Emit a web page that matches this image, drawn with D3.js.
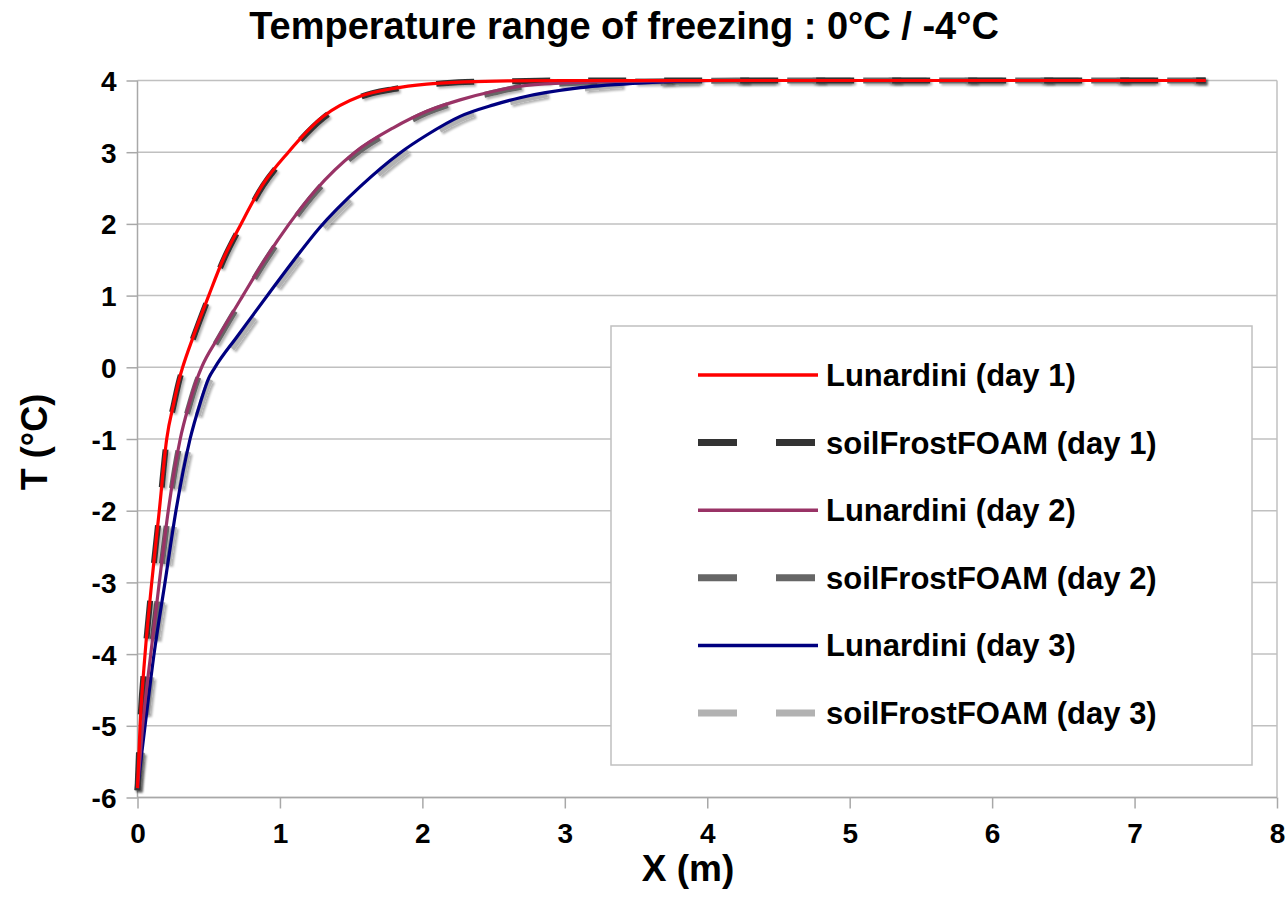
<!DOCTYPE html>
<html><head><meta charset="utf-8">
<script src="https://cdn.jsdelivr.net/npm/d3@7"></script>
<style>
body{margin:0;background:#fff;}
text{font-family:"Liberation Sans",Arial,sans-serif;font-weight:bold;fill:#000;}
</style>
</head><body>
<svg id="chart" width="1288" height="913"></svg>
<script>
const chartTitle = "Temperature range of freezing : 0°C / -4°C";
const xAxisTitle = "X (m)";
const yAxisTitle = "T (°C)";
const xTicks = [0, 1, 2, 3, 4, 5, 6, 7, 8];
const yTicks = [-6, -5, -4, -3, -2, -1, 0, 1, 2, 3, 4];

// Day 1
const day1X = [0, 0.018, 0.053, 0.10, 0.153, 0.205, 0.255, 0.295, 0.317, 0.39, 0.50, 0.60, 0.727, 0.88, 1.059, 1.305, 1.563, 1.796, 2.031, 2.3, 2.6, 3.0, 3.5, 4.0, 5.0, 6.0, 7.0, 7.5];
const lunDay1 = [-5.87, -5, -4, -3, -2, -1, -0.5, -0.15, 0, 0.42, 1, 1.5, 2, 2.55, 3, 3.5, 3.78, 3.89, 3.95, 3.98, 3.995, 4, 4, 4, 4, 4, 4, 4];
const foamDay1 = [-5.9, -5.02, -4.03, -3.03, -2.03, -1.02, -0.52, -0.17, -0.02, 0.40, 0.98, 1.48, 1.98, 2.53, 2.98, 3.48, 3.77, 3.88, 3.94, 3.98, 3.99, 4, 4, 4, 4, 4, 4, 4];

// Day 2
const day2X = [0, 0.036, 0.093, 0.153, 0.216, 0.30, 0.365, 0.42, 0.45, 0.567, 0.74, 0.90, 1.065, 1.25, 1.527, 1.796, 2.031, 2.265, 2.50, 2.686, 3.0, 3.3, 3.7, 4.2, 5.0, 6.0, 7.0, 7.5];
const lunDay2 = [-5.87, -5, -4, -3, -2, -1, -0.5, -0.15, 0, 0.42, 1, 1.52, 2, 2.47, 3, 3.34, 3.57, 3.73, 3.85, 3.92, 3.965, 3.985, 3.995, 4, 4, 4, 4, 4];
const foamDay2 = [-5.9, -5.03, -4.04, -3.04, -2.04, -1.03, -0.53, -0.18, -0.03, 0.39, 0.97, 1.49, 1.97, 2.44, 2.97, 3.31, 3.55, 3.71, 3.83, 3.91, 3.96, 3.98, 3.99, 4, 4, 4, 4, 4];

// Day 3
const day3X = [0, 0.053, 0.116, 0.193, 0.27, 0.369, 0.44, 0.50, 0.544, 0.70, 0.80, 0.93, 1.10, 1.28, 1.563, 1.843, 2.031, 2.265, 2.50, 2.686, 3.11, 3.58, 4.04, 5.0, 6.0, 7.0, 7.5];
const lunDay3 = [-5.87, -5, -4, -3, -2, -1, -0.5, -0.15, 0, 0.43, 0.70, 1.05, 1.50, 1.95, 2.52, 2.99, 3.24, 3.50, 3.66, 3.76, 3.90, 3.97, 4.0, 4, 4, 4, 4];
const foamDay3 = [-5.9, -5.05, -4.05, -3.05, -2.05, -1.05, -0.56, -0.22, -0.07, 0.36, 0.64, 0.99, 1.44, 1.90, 2.47, 2.94, 3.20, 3.46, 3.63, 3.73, 3.88, 3.96, 3.99, 4, 4, 4, 4];

const seriesNames = ["Lunardini (day 1)", "soilFrostFOAM (day 1)", "Lunardini (day 2)", "soilFrostFOAM (day 2)", "Lunardini (day 3)", "soilFrostFOAM (day 3)"];
const seriesColors = ["#ff0000", "#333333", "#993366", "#666666", "#000080", "#b2b2b2"];

const series = [
  {name: seriesNames[0], xs: day1X, ys: lunDay1, color: seriesColors[0], dashed: false},
  {name: seriesNames[1], xs: day1X, ys: foamDay1, color: seriesColors[1], dashed: true},
  {name: seriesNames[2], xs: day2X, ys: lunDay2, color: seriesColors[2], dashed: false},
  {name: seriesNames[3], xs: day2X, ys: foamDay2, color: seriesColors[3], dashed: true},
  {name: seriesNames[4], xs: day3X, ys: lunDay3, color: seriesColors[4], dashed: false},
  {name: seriesNames[5], xs: day3X, ys: foamDay3, color: seriesColors[5], dashed: true}
];

const svg = d3.select("#chart");
const plot = {left: 137.5, right: 1277, top: 80.5, bottom: 797.5};
const x = d3.scaleLinear().domain([0, 8]).range([plot.left, plot.right]);
const y = d3.scaleLinear().domain([-6, 4]).range([plot.bottom, plot.top]);

const defs = svg.append("defs");
const f = defs.append("filter").attr("id", "shadow").attr("x", "-20%").attr("y", "-20%").attr("width", "140%").attr("height", "140%");
f.append("feDropShadow").attr("dx", 2).attr("dy", 2).attr("stdDeviation", 1).attr("flood-color", "#000").attr("flood-opacity", 0.3);

// horizontal gridlines
svg.append("g").selectAll("line").data(yTicks).join("line")
  .attr("x1", plot.left).attr("x2", plot.right)
  .attr("y1", d => y(d)).attr("y2", d => y(d))
  .attr("stroke", "#c0c0c0").attr("stroke-width", 1.5);

// plot right border
svg.append("line").attr("x1", plot.right).attr("x2", plot.right)
  .attr("y1", plot.top).attr("y2", plot.bottom)
  .attr("stroke", "#c0c0c0").attr("stroke-width", 1.5);

// axes
const fmt = d => String(d);
const xAxis = d3.axisBottom(x).tickValues(xTicks).tickSize(11).tickPadding(15).tickFormat(fmt);
const gx = svg.append("g").attr("transform", `translate(0,${plot.bottom})`).call(xAxis);
const yAxis = d3.axisLeft(y).tickValues(yTicks).tickSize(11).tickPadding(10).tickFormat(fmt);
const gy = svg.append("g").attr("transform", `translate(${plot.left},0)`).call(yAxis);
[gx, gy].forEach(g => {
  g.attr("font-size", 28);
  g.select(".domain").attr("stroke", "#a8a8a8").attr("stroke-width", 1.5);
  g.selectAll(".tick line").attr("stroke", "#a8a8a8").attr("stroke-width", 1.5);
  g.selectAll(".tick text").attr("font-size", 28).attr("font-family", "Liberation Sans, Arial, sans-serif").attr("font-weight", "bold").attr("fill", "#000");
});
gx.select(".domain").attr("d", `M${plot.left},0H${plot.right}`);
gy.select(".domain").attr("d", `M0,${plot.bottom}V${plot.top}`);
gy.selectAll(".tick text").attr("dy", "0.36em");

// lines
const lineGen = d3.line().x(d => x(d[0])).y(d => y(d[1])).curve(d3.curveMonotoneX);
const gLines = svg.append("g");
const order = [5, 3, 1, 4, 2, 0];
order.forEach(i => {
  const s = series[i];
  const pts = s.xs.map((v, k) => [v, s.ys[k]]);
  const p = gLines.append("path").datum(pts)
    .attr("d", lineGen).attr("fill", "none")
    .attr("stroke", s.color)
    .attr("stroke-linejoin", "round");
  if (s.dashed) {
    p.attr("stroke-width", 6).attr("stroke-dasharray", "38,38").attr("filter", "url(#shadow)");
  } else {
    p.attr("stroke-width", 3.2);
  }
});

// title
svg.append("text").attr("x", 624).attr("y", 39).attr("text-anchor", "middle")
  .attr("font-size", 38).text(chartTitle);

// axis titles
svg.append("text").attr("x", 688).attr("y", 881).attr("text-anchor", "middle")
  .attr("font-size", 37).text(xAxisTitle);
svg.append("text").attr("transform", "translate(47,442) rotate(-90)").attr("text-anchor", "middle")
  .attr("font-size", 36).text(yAxisTitle);

// legend
const leg = svg.append("g");
leg.append("rect").attr("x", 611).attr("y", 326).attr("width", 641).attr("height", 439)
  .attr("fill", "#fff").attr("stroke", "#c0c0c0").attr("stroke-width", 1.5);
series.forEach((s, i) => {
  const ly = 375 + i * 67.6;
  const ln = leg.append("line").attr("x1", 698).attr("x2", s.dashed ? 815 : 818)
    .attr("y1", ly).attr("y2", ly).attr("stroke", s.color);
  if (s.dashed) ln.attr("stroke-width", 7).attr("stroke-dasharray", "39,39");
  else ln.attr("stroke-width", 3.5);
  leg.append("text").attr("x", 826).attr("y", ly + 11).attr("font-size", 31).text(s.name);
});
</script>
</body></html>
